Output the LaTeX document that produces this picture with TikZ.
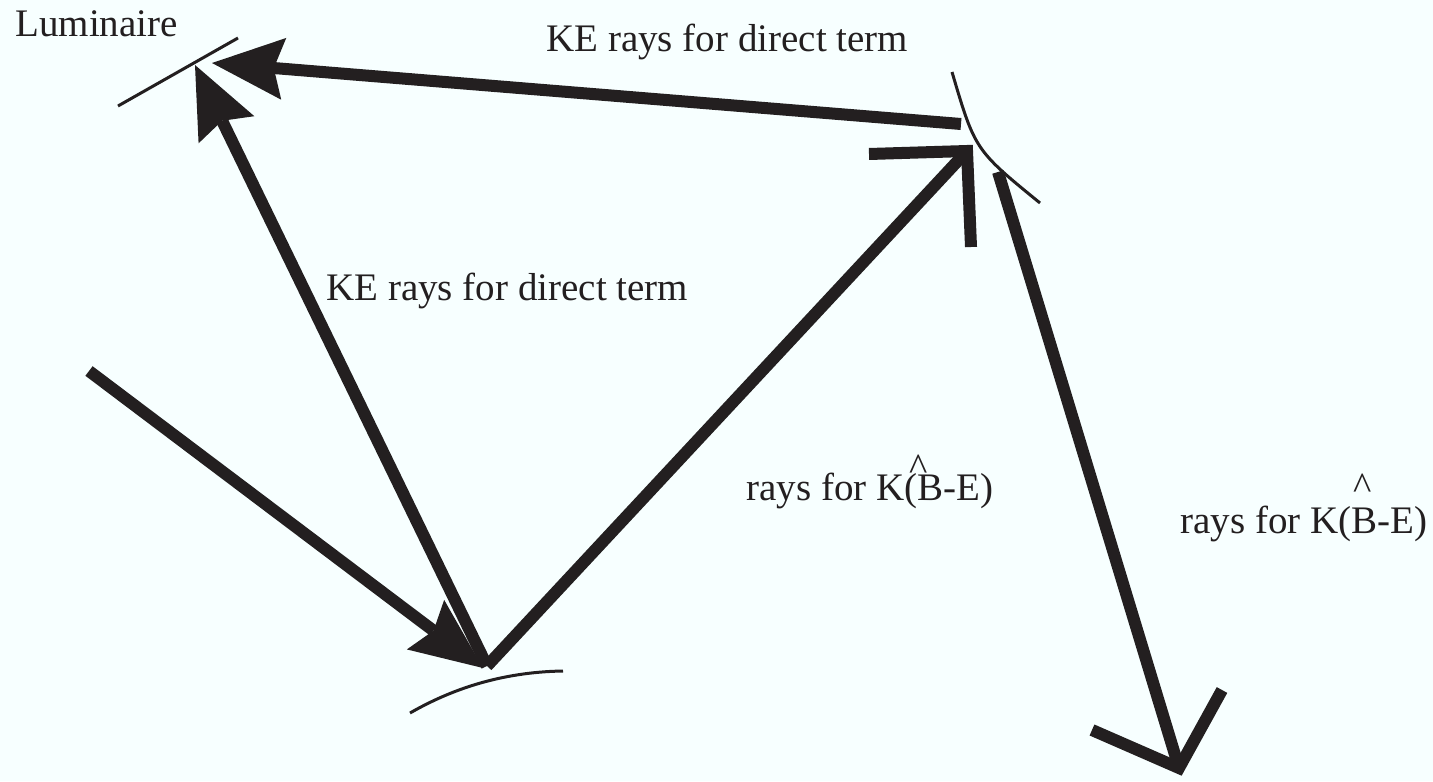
\documentclass[tikz,border=0pt]{standalone}
\usepackage{fontspec}
\setmainfont{LiberationSerif}[Extension=.ttf,UprightFont=*-Regular,BoldFont=*-Bold,ItalicFont=*-Italic,BoldItalicFont=*-BoldItalic]
\usetikzlibrary{arrows.meta}
\definecolor{bgc}{RGB}{247,255,255}
\definecolor{ink}{RGB}{35,31,32}
\newcommand{\hatat}[2]{\rlap{\hspace*{#1}\raisebox{#2}{\textasciicircum}}}
\begin{document}
\begin{tikzpicture}[x=0.5pt,y=-0.5pt,
  ray/.style={draw=ink,line width=6pt,line cap=butt},
  fat/.style={ray,-{Stealth[length=36pt,width=31pt,inset=5pt,line width=0pt]}},
  vhead/.style={draw=ink,line width=6pt,line join=miter,line cap=butt},
  surf/.style={draw=ink,line width=1.5pt},
  lbl/.style={anchor=base west,inner sep=0pt,text=ink,font=\fontsize{19.5}{23}\selectfont}]
\fill[bgc] (0,0) rectangle (1433,781);
\useasboundingbox (0,0) rectangle (1433,781);
% coordinates
\coordinate (lum) at (195,65);
\coordinate (lumtip) at (212,63);
\coordinate (sA) at (961,124);
\coordinate (bot) at (487,666);
\coordinate (inS) at (89,371);
\coordinate (inT) at (483,668);
\coordinate (T) at (967,151);
\coordinate (B1) at (869,154);
\coordinate (B2) at (971,247);
\coordinate (rS) at (998,172);
\coordinate (rT) at (1179,768);
\coordinate (rB1) at (1092,730);
\coordinate (rB2) at (1222,690);
% surfaces
\draw[surf] (118,106) -- (238,38);
\draw[surf] (952,72) .. controls (975,150) .. (1040,203);
\draw[surf] (410,713) .. controls (450,690) and (500,672) .. (563,671);
% rays
\draw[fat] (sA) -- (lumtip);
\draw[fat] (bot) -- (lum);
\draw[fat] (inS) -- (inT);
\draw[ray] (bot) -- (T);
\draw[vhead] (B1) -- (T) -- (B2);
\draw[ray] (rS) -- (rT);
\draw[vhead] (rB1) -- (rT) -- (rB2);
% labels
\node[lbl] (tLum) at (15,37) {Luminaire};
\node[lbl] (tTop) at (546,52) {KE rays for direct term};
\node[lbl] (tMid) at (326,300) {KE rays for direct term};
\node[lbl] (tK1) at (746,500) {rays for K(\hatat{-4pt}{10pt}B-E)};
\node[lbl] (tK2) at (1180,533) {rays for K(\hatat{1pt}{17pt}B-E)};
\end{tikzpicture}
\end{document}
